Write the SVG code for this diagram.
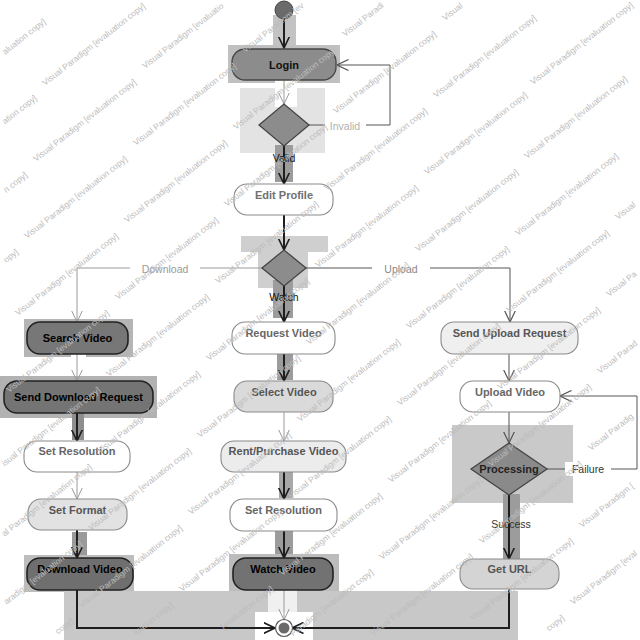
<svg xmlns="http://www.w3.org/2000/svg" width="640" height="640" viewBox="0 0 640 640">
<style>
.n{stroke:#444;stroke-width:1.3}
.nd{stroke:#222;stroke-width:1.6}
.nl{stroke:#8a8a8a;stroke-width:1.1}
.t{font-family:"Liberation Sans",Arial,sans-serif;font-size:11px;font-weight:bold;text-anchor:middle}
.lb{font-family:"Liberation Sans",Arial,sans-serif;font-size:10.5px;text-anchor:middle}
.c{fill:none;stroke:#555;stroke-width:1}
.cd{fill:none;stroke:#1e1e1e;stroke-width:2}
.cl{fill:none;stroke:#9a9a9a;stroke-width:1}
.wm text{font-family:"Liberation Sans",Arial,sans-serif;font-size:8.5px;fill:#bcbcbc}
</style>
<defs>
<marker id="a" viewBox="0 0 12 12" refX="11.5" refY="6" markerWidth="12" markerHeight="12" markerUnits="userSpaceOnUse" orient="auto"><path d="M0,0.5 L11.5,6 L0,11.5" fill="none" stroke="#555" stroke-width="1.2"/></marker>
<marker id="ad" viewBox="0 0 12 12" refX="11.5" refY="6" markerWidth="12" markerHeight="12" markerUnits="userSpaceOnUse" orient="auto"><path d="M0,0.5 L11.5,6 L0,11.5" fill="none" stroke="#1e1e1e" stroke-width="1.6"/></marker>
<marker id="al" viewBox="0 0 12 12" refX="11.5" refY="6" markerWidth="12" markerHeight="12" markerUnits="userSpaceOnUse" orient="auto"><path d="M0,0.5 L11.5,6 L0,11.5" fill="none" stroke="#9a9a9a" stroke-width="1"/></marker>
</defs>
<rect width="640" height="640" fill="#fff"/>
<g id="patches">
<rect x="273" y="15" width="23" height="33" fill="#c3c3c3"/>
<rect x="228" y="45" width="112" height="38" fill="#c0c0c0"/>
<rect x="240" y="88" width="85" height="65" fill="#e3e3e3"/>
<rect x="275" y="80" width="22" height="27" fill="#ffffff"/>
<rect x="275" y="145" width="18" height="37" fill="#9c9c9c"/>
<rect x="241" y="236" width="87" height="16" fill="#cfcfcf"/>
<rect x="258" y="252" width="50" height="36" fill="#cfcfcf"/>
<rect x="273" y="280" width="20" height="38" fill="#9c9c9c"/>
<rect x="24" y="319" width="109" height="38" fill="#b5b5b5"/>
<rect x="71" y="347" width="15" height="10" fill="#ffffff"/>
<rect x="0" y="376" width="157" height="42" fill="#b2b2b2"/>
<rect x="72" y="413" width="12" height="27" fill="#8e8e8e"/>
<rect x="72" y="532" width="15" height="25" fill="#9a9a9a"/>
<rect x="24" y="555" width="110" height="37" fill="#bdbdbd"/>
<rect x="277" y="350" width="16" height="30" fill="#9c9c9c"/>
<rect x="273" y="407" width="22" height="6" fill="#ffffff"/>
<rect x="279" y="470" width="14" height="28" fill="#a8a8a8"/>
<rect x="275" y="528" width="18" height="29" fill="#9c9c9c"/>
<rect x="229" y="554" width="110" height="39" fill="#bcbcbc"/>
<rect x="452" y="425" width="121" height="78" fill="#c9c9c9"/>
<rect x="503" y="494" width="17" height="68" fill="#9c9c9c"/>
<rect x="64" y="591" width="454" height="49" fill="#c8c8c8"/>
<rect x="268" y="582" width="29" height="30" fill="#f0f0f0"/>
<rect x="255" y="612" width="58" height="28" fill="#ffffff"/>
</g>
<g id="connectors">
<path class="cd" d="M284,19 V48" marker-end="url(#ad)"/>
<path class="cl" d="M284,80 V104" marker-end="url(#al)"/>
<path class="c" d="M309,125 H390 V65 H337" marker-end="url(#a)"/>
<path class="cd" d="M284,146 V184" marker-end="url(#ad)"/>
<path class="cd" d="M284,215 V250" marker-end="url(#ad)"/>
<path class="cl" d="M262,268 H77 V322" marker-end="url(#al)"/>
<path class="c" d="M306,268 H510 V322" marker-end="url(#a)"/>
<path class="cd" d="M284,286 V322" marker-end="url(#ad)"/>
<path class="cl" d="M77,354 V381" marker-end="url(#al)"/>
<path class="cd" d="M77,413 V441" marker-end="url(#ad)"/>
<path class="cl" d="M77,472 V499" marker-end="url(#al)"/>
<path class="cd" d="M77,530 V558" marker-end="url(#ad)"/>
<path class="cd" d="M77,590 V628 H275" marker-end="url(#ad)"/>
<path class="cd" d="M284,354 V381" marker-end="url(#ad)"/>
<path class="cl" d="M284,412 V441" marker-end="url(#al)"/>
<path class="cd" d="M284,472 V499" marker-end="url(#ad)"/>
<path class="cd" d="M284,531 V558" marker-end="url(#ad)"/>
<path class="cl" d="M284,590 V620" marker-end="url(#al)"/>
<path class="c" d="M509,354 V381" marker-end="url(#a)"/>
<path class="c" d="M509,412 V443" marker-end="url(#a)"/>
<path class="c" d="M547,469 H637 V396 H560" marker-end="url(#a)"/>
<path class="cd" d="M509,495 V559" marker-end="url(#ad)"/>
<path class="cd" d="M509,589 V628 H292" marker-end="url(#ad)"/>
<rect x="325" y="119" width="41" height="14" fill="#fff"/>
<text class="lb" x="345" y="129.5" fill="#b0b0b0">Invalid</text>
<text class="lb" x="284" y="162" fill="#111">Valid</text>
<rect x="130" y="262" width="70" height="14" fill="#fff"/>
<text class="lb" x="165" y="272.5" fill="#999">Download</text>
<rect x="372" y="262" width="58" height="14" fill="#fff"/>
<text class="lb" x="401" y="272.5" fill="#888">Upload</text>
<text class="lb" x="284" y="301" fill="#111">Watch</text>
<rect x="565" y="462" width="46" height="14" fill="#fff"/>
<text class="lb" x="588" y="472.5" fill="#333">Failure</text>
<text class="lb" x="511" y="528" fill="#333">Success</text>
</g>
<g id="start"><circle cx="284" cy="10" r="9" fill="#6a6a6a" stroke="#444" stroke-width="1"/></g>
<g id="login"><rect class="n" x="232" y="49" width="104" height="31" rx="13" fill="#8c8c8c"/><text class="t" x="284" y="68.5" fill="#111">Login</text></g>
<g id="decision1"><polygon class="n" points="259,125 284,104 309,125 284,146" fill="#8c8c8c"/></g>
<g id="editProfile"><rect class="nl" x="234" y="184" width="99" height="31" rx="13" fill="#fff"/><text class="t" x="284" y="199" fill="#707070">Edit Profile</text></g>
<g id="decision2"><polygon class="n" points="262,268 284,250 306,268 284,286" fill="#8c8c8c"/></g>
<g id="searchVideo"><rect class="nd" x="27" y="322" width="101" height="32" rx="13" fill="#777"/><text class="t" x="77.5" y="342" fill="#000">Search Video</text></g>
<g id="sendDownloadRequest"><rect class="nd" x="4" y="381" width="149" height="32" rx="13" fill="#747474"/><text class="t" x="78.5" y="401" fill="#000">Send Download Request</text></g>
<g id="setResolution1"><rect class="nl" x="24" y="441" width="106" height="31" rx="13" fill="#fff"/><text class="t" x="77" y="455" fill="#666">Set Resolution</text></g>
<g id="setFormat"><rect class="nl" x="28" y="499" width="99" height="31" rx="13" fill="#e2e2e2"/><text class="t" x="77.5" y="514" fill="#555">Set Format</text></g>
<g id="downloadVideo"><rect class="nd" x="27" y="558" width="106" height="32" rx="13" fill="#6f6f6f"/><text class="t" x="80" y="573" fill="#000">Download Video</text></g>
<g id="requestVideo"><rect class="nl" x="232" y="322" width="103" height="32" rx="13" fill="#fff"/><text class="t" x="283.5" y="337" fill="#666">Request Video</text></g>
<g id="selectVideo"><rect class="nl" x="234" y="381" width="99" height="31" rx="13" fill="#dadada"/><text class="t" x="284" y="396" fill="#555">Select Video</text></g>
<g id="rentPurchaseVideo"><rect class="nl" x="221" y="441" width="125" height="31" rx="13" fill="#ececec"/><text class="t" x="283.5" y="455" fill="#555">Rent/Purchase Video</text></g>
<g id="setResolution2"><rect class="nl" x="230" y="499" width="107" height="32" rx="13" fill="#fff"/><text class="t" x="283.5" y="514" fill="#666">Set Resolution</text></g>
<g id="watchVideo"><rect class="nd" x="233" y="558" width="100" height="32" rx="13" fill="#727272"/><text class="t" x="283" y="573" fill="#000">Watch Video</text></g>
<g id="sendUploadRequest"><rect class="nl" x="441" y="322" width="137" height="32" rx="13" fill="#efefef"/><text class="t" x="509.5" y="337" fill="#555">Send Upload Request</text></g>
<g id="uploadVideo"><rect class="nl" x="460" y="381" width="100" height="31" rx="13" fill="#fff"/><text class="t" x="510" y="396" fill="#666">Upload Video</text></g>
<g id="processing"><polygon class="n" points="471,469 509,443 547,469 509,495" fill="#8a8a8a"/><text class="t" x="509" y="473" fill="#222">Processing</text></g>
<g id="getURL"><rect class="nl" x="460" y="559" width="99" height="30" rx="13" fill="#d4d4d4"/><text class="t" x="509.5" y="573" fill="#555">Get URL</text></g>
<g id="final"><circle cx="284" cy="628" r="8.5" fill="#fff" stroke="#555" stroke-width="1.2"/><circle cx="284" cy="628" r="5.5" fill="#6a6a6a"/></g>
<g class="wm">
<text x="5" y="55" transform="rotate(-38 5 55)">aluation copy]</text>
<text x="5" y="124.5" transform="rotate(-38 5 124.5)">ation copy]</text>
<text x="6.3" y="193" transform="rotate(-38 6.3 193)">n copy]</text>
<text x="6.2" y="263" transform="rotate(-38 6.2 263)">opy]</text>
<text x="45" y="86" transform="rotate(-38 45 86)">Visual Paradigm [evaluation copy]</text>
<text x="36" y="162" transform="rotate(-38 36 162)">Visual Paradigm [evaluation copy]</text>
<text x="27" y="239" transform="rotate(-38 27 239)">Visual Paradigm [evaluation copy]</text>
<text x="18" y="316" transform="rotate(-38 18 316)">Visual Paradigm [evaluation copy]</text>
<text x="9" y="393" transform="rotate(-38 9 393)">Visual Paradigm [evaluation copy]</text>
<text x="4.5" y="466.5" transform="rotate(-38 4.5 466.5)">isual Paradigm [evaluation copy]</text>
<text x="4.5" y="536.8" transform="rotate(-38 4.5 536.8)">al Paradigm [evaluation copy]</text>
<text x="6.6" y="604.8" transform="rotate(-38 6.6 604.8)">aradigm [evaluation copy]</text>
<text x="57.9" y="634.6" transform="rotate(-38 57.9 634.6)">copy]</text>
<text x="145" y="69" transform="rotate(-38 145 69)">Visual Paradigm [evaluatio</text>
<text x="136" y="146" transform="rotate(-38 136 146)">Visual Paradigm [evaluation copy]</text>
<text x="127" y="223" transform="rotate(-38 127 223)">Visual Paradigm [evaluation copy]</text>
<text x="118" y="300" transform="rotate(-38 118 300)">Visual Paradigm [evaluation copy]</text>
<text x="109" y="377" transform="rotate(-38 109 377)">Visual Paradigm [evaluation copy]</text>
<text x="100" y="454" transform="rotate(-38 100 454)">Visual Paradigm [evaluation copy]</text>
<text x="91" y="531" transform="rotate(-38 91 531)">Visual Paradigm [evaluation copy]</text>
<text x="82" y="608" transform="rotate(-38 82 608)">Visual Paradigm [evaluation copy]</text>
<text x="136.3" y="635.5" transform="rotate(-38 136.3 635.5)">luation copy]</text>
<text x="245" y="53" transform="rotate(-38 245 53)">Visual Paradigm [ev</text>
<text x="236" y="130" transform="rotate(-38 236 130)">Visual Paradigm [evaluation copy]</text>
<text x="227" y="207" transform="rotate(-38 227 207)">Visual Paradigm [evaluation copy]</text>
<text x="218" y="284" transform="rotate(-38 218 284)">Visual Paradigm [evaluation copy]</text>
<text x="209" y="361" transform="rotate(-38 209 361)">Visual Paradigm [evaluation copy]</text>
<text x="200" y="438" transform="rotate(-38 200 438)">Visual Paradigm [evaluation copy]</text>
<text x="191" y="515" transform="rotate(-38 191 515)">Visual Paradigm [evaluation copy]</text>
<text x="182" y="592" transform="rotate(-38 182 592)">Visual Paradigm [evaluation copy]</text>
<text x="223.6" y="629.4" transform="rotate(-38 223.6 629.4)">[evaluation copy]</text>
<text x="345" y="37" transform="rotate(-38 345 37)">Visual Paradi</text>
<text x="336" y="114" transform="rotate(-38 336 114)">Visual Paradigm [evaluation copy]</text>
<text x="327" y="191" transform="rotate(-38 327 191)">Visual Paradigm [evaluation copy]</text>
<text x="318" y="268" transform="rotate(-38 318 268)">Visual Paradigm [evaluation copy]</text>
<text x="309" y="345" transform="rotate(-38 309 345)">Visual Paradigm [evaluation copy]</text>
<text x="300" y="422" transform="rotate(-38 300 422)">Visual Paradigm [evaluation copy]</text>
<text x="291" y="499" transform="rotate(-38 291 499)">Visual Paradigm [evaluation copy]</text>
<text x="282" y="576" transform="rotate(-38 282 576)">Visual Paradigm [evaluation copy]</text>
<text x="293" y="636.5" transform="rotate(-38 293 636.5)">Paradigm [evaluation copy]</text>
<text x="445" y="21" transform="rotate(-38 445 21)">Visual</text>
<text x="436" y="98" transform="rotate(-38 436 98)">Visual Paradigm [evaluation copy]</text>
<text x="427" y="175" transform="rotate(-38 427 175)">Visual Paradigm [evaluation copy]</text>
<text x="418" y="252" transform="rotate(-38 418 252)">Visual Paradigm [evaluation copy]</text>
<text x="409" y="329" transform="rotate(-38 409 329)">Visual Paradigm [evaluation copy]</text>
<text x="400" y="406" transform="rotate(-38 400 406)">Visual Paradigm [evaluation copy]</text>
<text x="391" y="483" transform="rotate(-38 391 483)">Visual Paradigm [evaluation copy]</text>
<text x="382" y="560" transform="rotate(-38 382 560)">Visual Paradigm [evaluation copy]</text>
<text x="373" y="636.5" transform="rotate(-38 373 636.5)">Visual Paradigm [evaluation copy]</text>
<text x="533" y="85" transform="rotate(-38 533 85)">Visual Paradigm [evaluation copy]</text>
<text x="527" y="159" transform="rotate(-38 527 159)">Visual Paradigm [evaluation copy]</text>
<text x="518" y="236" transform="rotate(-38 518 236)">Visual Paradigm [evaluation copy]</text>
<text x="509" y="313" transform="rotate(-38 509 313)">Visual Paradigm [evaluation copy]</text>
<text x="500" y="390" transform="rotate(-38 500 390)">Visual Paradigm [evaluation copy]</text>
<text x="491" y="467" transform="rotate(-38 491 467)">Visual Paradigm [evaluation copy]</text>
<text x="482" y="544" transform="rotate(-38 482 544)">Visual Paradigm [evaluation copy]</text>
<text x="473" y="621" transform="rotate(-38 473 621)">Visual Paradigm [evaluation copy]</text>
<text x="548.9" y="631.6" transform="rotate(-38 548.9 631.6)">copy]</text>
<text x="618" y="220" transform="rotate(-38 618 220)">Visual</text>
<text x="609" y="297" transform="rotate(-38 609 297)">Visual Pa</text>
<text x="600" y="374" transform="rotate(-38 600 374)">Visual Parad</text>
<text x="591" y="451" transform="rotate(-38 591 451)">Visual Paradig</text>
<text x="582" y="528" transform="rotate(-38 582 528)">Visual Paradigm [</text>
<text x="573" y="605" transform="rotate(-38 573 605)">Visual Paradigm [eval</text>
</g>
</svg>
